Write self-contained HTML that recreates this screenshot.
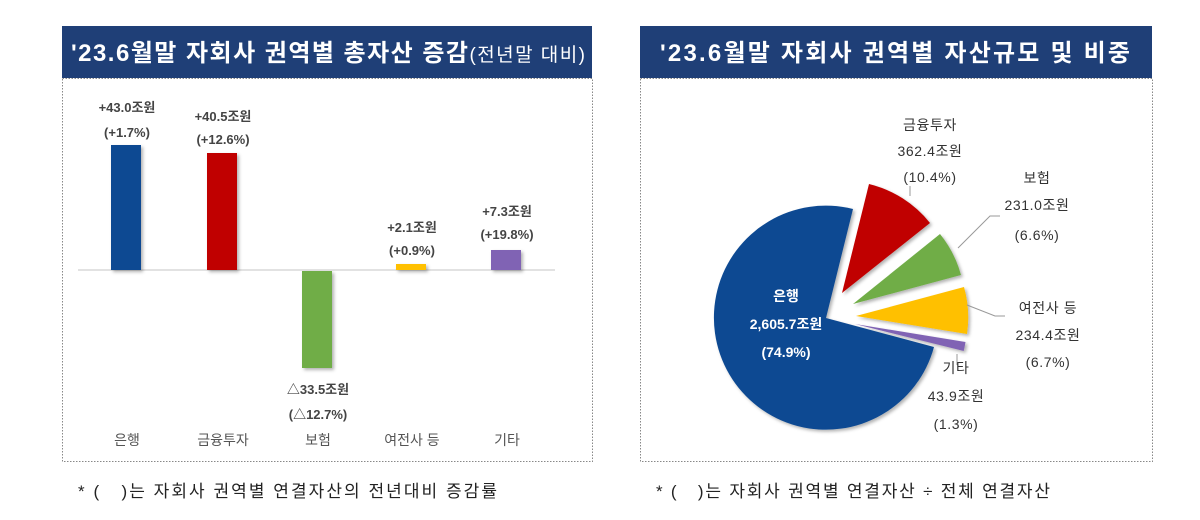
<!DOCTYPE html>
<html><head><meta charset="utf-8"><style>
body{margin:0;background:#fff;width:1200px;height:515px;overflow:hidden;font-family:"Liberation Sans","Noto Sans CJK KR",sans-serif}
</style></head><body>
<svg width="1200" height="515" xmlns="http://www.w3.org/2000/svg" font-family="'Liberation Sans','Noto Sans CJK KR',sans-serif">
<defs><filter id="sh" x="-20%" y="-20%" width="150%" height="150%"><feDropShadow dx="2" dy="2" stdDeviation="1.5" flood-color="#000" flood-opacity="0.3"/></filter></defs>
<!-- left panel -->
<rect x="62" y="26" width="530" height="52" fill="#1f3f77"/>
<text x="71" y="61" fill="#fff" font-size="24" font-weight="bold" textLength="514" lengthAdjust="spacing">'23.6월말 자회사 권역별 총자산 증감<tspan font-size="19" font-weight="normal">(전년말 대비)</tspan></text>
<rect x="62.5" y="78.5" width="530" height="383" fill="none" stroke="#888" stroke-dasharray="1.5,1.5"/>
<line x1="78" y1="270" x2="555" y2="270" stroke="#d9d9d9" stroke-width="1.5"/>
<g filter="url(#sh)">
<rect x="111" y="145" width="30" height="125" fill="#0f4a92"/>
<rect x="207" y="153" width="30" height="117" fill="#c00000"/>
<rect x="302" y="271" width="30" height="97" fill="#70ad47"/>
<rect x="396" y="264" width="30" height="6" fill="#ffc000"/>
<rect x="491" y="250" width="30" height="20" fill="#8064b4"/>
</g>
<g font-size="13" fill="#444" text-anchor="middle" font-weight="bold">
<text x="127" y="112">+43.0조원</text><text x="127" y="137">(+1.7%)</text>
<text x="223" y="121">+40.5조원</text><text x="223" y="144">(+12.6%)</text>
<text x="318" y="394">△33.5조원</text><text x="318" y="419">(△12.7%)</text>
<text x="412" y="232">+2.1조원</text><text x="412" y="255">(+0.9%)</text>
<text x="507" y="216">+7.3조원</text><text x="507" y="239">(+19.8%)</text>
</g>
<g font-size="14" fill="#555" text-anchor="middle">
<text x="127" y="445">은행</text><text x="223" y="445">금융투자</text><text x="318" y="445">보험</text><text x="412" y="445">여전사 등</text><text x="507" y="445">기타</text>
</g>
<text x="78" y="497" font-size="17" fill="#222" textLength="419" lengthAdjust="spacing">* (&#160;&#160;&#160;)는 자회사 권역별 연결자산의 전년대비 증감률</text>
<!-- right panel -->
<rect x="640" y="26" width="512" height="52" fill="#1f3f77"/>
<text x="660" y="61" fill="#fff" font-size="24" font-weight="bold" textLength="470" lengthAdjust="spacing">'23.6월말 자회사 권역별 자산규모 및 비중</text>
<rect x="640.5" y="78.5" width="512" height="383" fill="none" stroke="#888" stroke-dasharray="1.5,1.5"/>
<g filter="url(#sh)">
<path d="M826,318 L934,347 A112,112 0 1 1 853,209 Z" fill="#0f4a92"/>
<path d="M842,293 L869,184 A112,112 0 0 1 930,223 Z" fill="#c00000"/>
<path d="M853,304 L940,234 A112,112 0 0 1 961,275 Z" fill="#70ad47"/>
<path d="M856,316 L964,287 A112,112 0 0 1 967,334 Z" fill="#ffc000"/>
<path d="M855,324 L965.5,342 A112,112 0 0 1 963.7,351 Z" fill="#8064b4"/>
</g>
<g stroke="#999" fill="none" stroke-width="1">
<polyline points="910,186 910,196"/>
<polyline points="958,248 990,216 1000,216"/>
<polyline points="967,305 995,316 1005,316"/>
<polyline points="957,354 957,365"/>
</g>
<g font-size="14" fill="#333" text-anchor="middle" letter-spacing="0.6">
<text x="930" y="130">금융투자</text><text x="930" y="156">362.4조원</text><text x="930" y="182">(10.4%)</text>
<text x="1037" y="183">보험</text><text x="1037" y="210">231.0조원</text><text x="1037" y="240">(6.6%)</text>
<text x="1048" y="313">여전사 등</text><text x="1048" y="340">234.4조원</text><text x="1048" y="367">(6.7%)</text>
<text x="956" y="373">기타</text><text x="956" y="401">43.9조원</text><text x="956" y="429">(1.3%)</text>
</g>
<g font-size="14" fill="#fff" text-anchor="middle" font-weight="bold">
<text x="786" y="301">은행</text><text x="786" y="329">2,605.7조원</text><text x="786" y="357">(74.9%)</text>
</g>
<text x="656" y="497" font-size="17" fill="#222" textLength="394" lengthAdjust="spacing">* (&#160;&#160;&#160;)는 자회사 권역별 연결자산 ÷ 전체 연결자산</text>
</svg>
</body></html>
